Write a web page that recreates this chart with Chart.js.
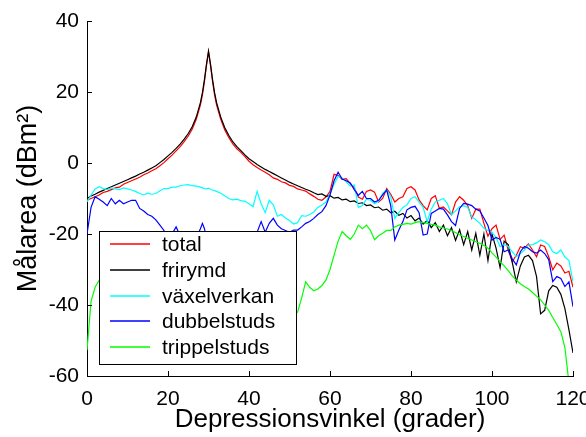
<!DOCTYPE html>
<html>
<head>
<meta charset="utf-8">
<script src="https://cdn.jsdelivr.net/npm/chart.js@4"></script>
<style>
body { margin: 0; background: #fff; }
</style>
</head>
<body>
<canvas id="myChart" width="586" height="437"></canvas>
<script>
// depression angle (degrees), extra half steps around the specular peak
var angles = [
    0, 1, 2, 3, 4, 5, 6, 7, 8, 9,
    10, 11, 12, 13, 14, 15, 16, 17, 18, 19,
    20, 21, 22, 23, 24, 25, 26, 27, 28,
    28.5, 29, 29.5, 30, 30.5, 31, 31.5,
    32, 33, 34, 35, 36, 37, 38, 39,
    40, 41, 42, 43, 44, 45, 46, 47, 48, 49,
    50, 51, 52, 53, 54, 55, 56, 57, 58, 59,
    60, 61, 62, 63, 64, 65, 66, 67, 68, 69,
    70, 71, 72, 73, 74, 75, 76, 77, 78, 79,
    80, 81, 82, 83, 84, 85, 86, 87, 88, 89,
    90, 91, 92, 93, 94, 95, 96, 97, 98, 99,
    100, 101, 102, 103, 104, 105, 106, 107, 108, 109,
    110, 111, 112, 113, 114, 115, 116, 117, 118, 119, 120
];

var total = [
    -10.5, -10, -9.5, -9, -8.3, -8, -7.5, -7, -6.8, -6,
    -5.5, -5, -4.5, -4, -3.3, -2.8, -2.2, -1.6, -0.8, 0.1,
    1.2, 2.2, 3.4, 4.6, 6, 7.6, 9.6, 12.4, 16.3,
    19.2, 23, 27.5, 31.3, 27.5, 23, 19.2,
    16.3, 12.4, 9.4, 7.2, 5.4, 4, 3, 1.8,
    0.5, -0.5, -1.3, -2, -2.6, -3.3, -4.2, -4.6, -5.3, -5.6,
    -6.3, -6.6, -7.3, -7.6, -7.9, -8.7, -9.4, -10.2, -10.5, -9.6,
    -8, -3.2, -3.5, -4.6, -4.4, -5.8, -7, -9.6, -10.2, -8,
    -7.6, -8.2, -11, -10, -7.2, -8.8, -11, -10, -9.5, -7.2,
    -6.7, -7.6, -10.4, -12, -13.2, -10, -9.2, -12.8, -12.4, -13.5,
    -14.6, -11, -9.5, -10.5, -12, -15.6, -13, -13, -17, -20.6,
    -18.5, -17.5, -21.5, -20.3, -24.5, -27.8, -26, -23.6, -24, -22.8,
    -24.5, -26.4, -23.1, -23.5, -26.4, -30.1, -28.2, -29, -31, -30.5, -35
];

var frirymd = [
    -10, -9.3, -8.8, -8.2, -7.7, -7.2, -6.7, -6.2, -5.7, -5.2,
    -4.7, -4.2, -3.7, -3.1, -2.6, -2, -1.4, -0.8, 0.1, 1,
    2, 3, 4.1, 5.3, 6.7, 8.3, 10.3, 13, 17,
    19.8, 23.5, 27.8, 31.5, 27.8, 23.5, 19.8,
    17, 13, 10, 7.8, 6, 4.6, 3.5, 2.3,
    1.2, 0.4, -0.4, -1.1, -1.8, -2.4, -3, -3.6, -4.2, -4.8,
    -5.4, -5.9, -6.4, -6.9, -7.4, -7.8, -8.4, -8.9, -8.7, -9.4,
    -9.2, -9.9, -9.7, -10.4, -10.2, -10.9, -10.7, -11.4, -11.2, -12,
    -11.8, -12.6, -12.4, -13.3, -13, -14, -13.6, -14.7, -14.2, -15.5,
    -14.8, -16.3, -15.5, -17.2, -16.2, -18.2, -16.8, -19.3, -17.5, -20.5,
    -18.2, -21.8, -18.8, -23, -19.3, -24.5, -19.8, -26, -20, -27.5,
    -20, -24, -29.5, -22, -23, -28, -33.5, -29, -26.5, -26,
    -27.5, -32, -42.5, -41.5, -36, -34.5, -35, -37, -41, -47, -53.5
];

var vaxelverkan = [
    -11, -9, -7.3, -6.7, -7.2, -7.5, -7, -7.3, -7.5, -7,
    -7.3, -7.6, -8, -8.6, -9, -8.5, -8.8, -8.6, -7.8, -7.2,
    -7.2, -6.8, -6.8, -6.4, -6.2, -6.1, -6.4, -6.5, -6.8,
    -7, -7.2, -7.3, -7.1, -7.4, -7.6, -7.8,
    -8, -8.5, -9.2, -10, -10.4, -10.2, -10.6, -10.8,
    -11.5, -12.3, -8, -11.5, -14, -10.5, -11.8, -15, -14.5, -15.5,
    -16.2, -17.2, -16.8, -14.8, -15, -14.5, -13.8, -12.5, -11.8, -11,
    -8.7, -6, -3.8, -4.2, -5.3, -6.5, -6.2, -12.5, -12, -10.2,
    -10.5, -11.5, -10.8, -8.5, -7.6, -9.5, -15.6, -14, -12.5, -11.8,
    -10, -9.5, -11, -12.5, -16.5, -13, -11, -10.5, -10, -11.5,
    -14.6, -13.5, -12.3, -12, -12.5, -15.2, -16, -17, -18.4, -19,
    -19.5, -21, -23.6, -23, -23.5, -25, -26.4, -25.5, -24.5, -23.1,
    -23, -22.5, -21.7, -22.2, -23, -25, -25.5, -24.5, -26.5, -27.5, -33.5
];

var dubbelstuds = [
    -20, -12.5, -9.5, -10.2, -11, -12, -10, -11.5, -10.5, -11.5,
    -11, -10.5, -10.5, -12.8, -13.5, -14.5, -15, -16, -17.5, -19,
    -22, -20, -18, -20.5, -23, -24, -23, -21, -18.5,
    -17, -18.5, -21, -23, -24, -25, -25,
    -25, -26, -26, -27, -27, -26, -25, -24,
    -23, -21, -19.5, -16.5, -19.5, -17, -15.6, -17.5, -18.5, -19,
    -19.5, -18.9, -18.9, -18, -17, -16.5, -15.6, -14.5, -13.7, -12,
    -9, -5, -2.6, -4.5, -5, -5.6, -7.5, -9.1, -8, -10,
    -10, -11, -10.5, -9, -7.6, -12, -21.7, -18.9, -16.5, -13.2,
    -12.5, -12.2, -14, -20.3, -20, -14.2, -13.5, -12.8, -13, -14.6,
    -16.5, -17.6, -12.8, -11.4, -11.6, -12, -13, -13.5, -15.5, -17.6,
    -21.7, -21, -21.5, -25, -24.5, -27, -28.7, -25, -23.5, -24,
    -25, -25.4, -24.5, -25.5, -27.2, -33.4, -32, -32.5, -34.8, -33.5, -40.5
];

var trippelstuds = [
    -52.7, -39, -35, -33, -32.5, -33, -34, -33.5, -34, -35,
    -35, -36, -35.5, -36.5, -37, -36, -37, -38, -37.5, -38,
    -38.5, -38, -39, -39.5, -39, -40, -39.5, -40, -40.5,
    -40.5, -41, -40.5, -41, -41.5, -41, -41.5,
    -41.5, -42, -41.5, -42, -42.5, -42, -42.5, -43,
    -42.5, -43, -43.5, -43, -43.5, -44, -43.5, -43, -43.5, -43,
    -43, -42.5, -42, -38, -33.5, -35, -36, -35.5, -34.5, -33,
    -30, -26, -22, -19.3, -20.5, -21.5, -20, -17.5, -18.5, -17.5,
    -19, -21.6, -20.5, -19.8, -19, -19, -18, -17.5, -17.3, -17,
    -17.2, -16.8, -16.5, -16.8, -17, -17.3, -17.5, -18, -18.3, -18.6,
    -19, -19.6, -20.2, -20.7, -21.2, -21.7, -22.2, -22.6, -23.2, -24,
    -25.3, -26.5, -27.8, -29, -30.3, -31.8, -33, -34, -34.8, -35.5,
    -36.5, -37.5, -38.5, -40, -41.5, -43.5, -45.5, -47.5, -52, -62, -66
];

var seriesNames = ['total', 'frirymd', 'växelverkan', 'dubbelstuds', 'trippelstuds'];
var seriesValues = [total, frirymd, vaxelverkan, dubbelstuds, trippelstuds];
var seriesColors = ['#ff0000', '#000000', '#00ffff', '#0000ff', '#00ff00'];

var xTicks = [0, 20, 40, 60, 80, 100, 120];
var yTicks = [-60, -40, -20, 0, 20, 40];

var fontFamily = '"Liberation Sans", Arial, Helvetica, sans-serif';

// short tick marks pointing into the plot, like the original
var inwardTicks = {
    id: 'inwardTicks',
    afterDraw: function(chart) {
        var ctx = chart.ctx, a = chart.chartArea;
        var xs = chart.scales.x, ys = chart.scales.y;
        ctx.save();
        ctx.strokeStyle = '#000';
        ctx.lineWidth = 1;
        ctx.beginPath();
        xs.ticks.forEach(function(t) {
            var px = Math.round(xs.getPixelForValue(t.value)) + 0.5;
            ctx.moveTo(px, a.bottom);
            ctx.lineTo(px, a.bottom - 5);
        });
        ys.ticks.forEach(function(t) {
            var py = Math.round(ys.getPixelForValue(t.value)) + 0.5;
            ctx.moveTo(a.left, py);
            ctx.lineTo(a.left + 5, py);
        });
        ctx.stroke();
        ctx.restore();
    }
};

// boxed legend sitting inside the plot, over the curves
var boxLegend = {
    id: 'boxLegend',
    afterDatasetsDraw: function(chart) {
        var ctx = chart.ctx, a = chart.chartArea;
        var left = a.left + 12, top = a.top + 210, w = 197, h = 133;
        ctx.save();
        ctx.fillStyle = '#fff';
        ctx.fillRect(left, top, w, h);
        ctx.strokeStyle = '#000';
        ctx.lineWidth = 1;
        ctx.strokeRect(left + 0.5, top + 0.5, w, h);
        ctx.font = '21px ' + fontFamily;
        ctx.textBaseline = 'middle';
        ctx.textAlign = 'left';
        seriesNames.forEach(function(name, i) {
            var y = Math.round(top + 13 + i * 25.8);
            ctx.strokeStyle = seriesColors[i];
            ctx.lineWidth = 1.5;
            ctx.beginPath();
            ctx.moveTo(left + 11, y);
            ctx.lineTo(left + 51, y);
            ctx.stroke();
            ctx.fillStyle = '#000';
            ctx.fillText(name, left + 63, y + 1);
        });
        ctx.restore();
    }
};

var ctx = document.getElementById('myChart').getContext('2d');
var myChart = new Chart(ctx, {
    type: 'line',
    data: {
        datasets: seriesValues.map(function(vals, i) {
            return {
                label: seriesNames[i],
                data: angles.map(function(a, j) { return { x: a, y: vals[j] }; }),
                borderColor: seriesColors[i],
                borderWidth: 1.2,
                pointRadius: 0,
                tension: 0,
                fill: false,
                order: seriesNames.length - i
            };
        })
    },
    options: {
        responsive: false,
        animation: false,
        devicePixelRatio: 1,
        layout: { padding: { top: 21, right: 13, left: 0, bottom: 0 } },
        plugins: {
            legend: { display: false },
            tooltip: { enabled: false }
        },
        scales: {
            x: {
                type: 'linear',
                min: 0,
                max: 120,
                afterBuildTicks: function(scale) {
                    scale.ticks = xTicks.map(function(v) { return { value: v }; });
                },
                afterFit: function(scale) {
                    scale.height = 61;
                    scale.paddingLeft = 0;
                    scale.paddingRight = 0;
                },
                grid: { display: false, drawTicks: false },
                border: { display: true, color: '#000', width: 1 },
                ticks: {
                    color: '#000',
                    padding: 11,
                    maxRotation: 0,
                    font: { family: fontFamily, size: 21 }
                },
                title: {
                    display: true,
                    text: 'Depressionsvinkel (grader)',
                    color: '#000',
                    padding: { top: 0, bottom: 2 },
                    font: { family: fontFamily, size: 26 }
                }
            },
            y: {
                min: -60,
                max: 40,
                afterBuildTicks: function(scale) {
                    scale.ticks = yTicks.map(function(v) { return { value: v }; });
                },
                afterFit: function(scale) {
                    scale.width = 87;
                    scale.paddingTop = 0;
                    scale.paddingBottom = 0;
                },
                grid: { display: false, drawTicks: false },
                border: { display: true, color: '#000', width: 1 },
                ticks: {
                    color: '#000',
                    padding: 8,
                    font: { family: fontFamily, size: 21 }
                },
                title: {
                    display: true,
                    text: 'Målarea (dBm²)',
                    color: '#000',
                    padding: { top: 12, bottom: 0 },
                    font: { family: fontFamily, size: 27 }
                }
            }
        }
    },
    plugins: [inwardTicks, boxLegend]
});
</script>
</body>
</html>
